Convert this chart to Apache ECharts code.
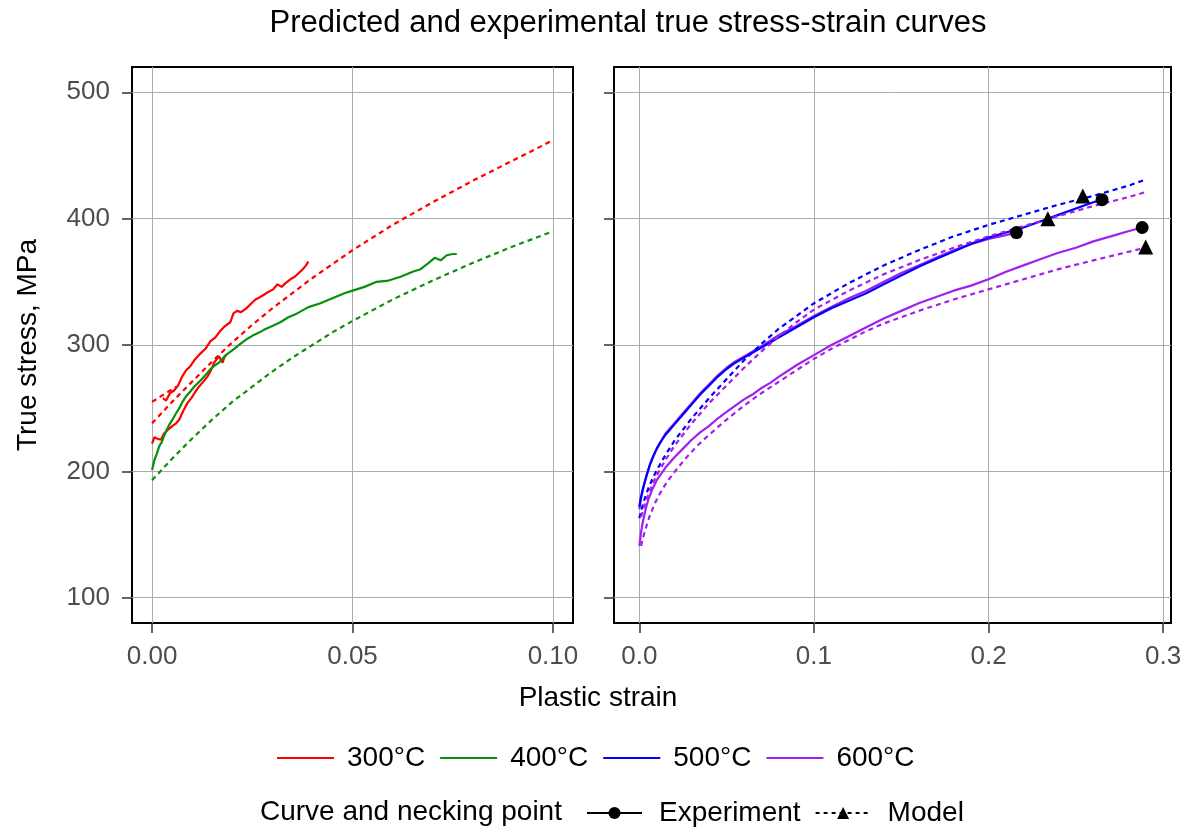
<!DOCTYPE html>
<html>
<head>
<meta charset="utf-8">
<title>Predicted and experimental true stress-strain curves</title>
<script src="https://cdn.jsdelivr.net/npm/echarts@6/dist/echarts.min.js"></script>
<style>
  html, body { margin: 0; padding: 0; background: #fff; }
  #chart { width: 1191px; height: 830px; }
</style>
</head>
<body>
<div id="chart"></div>
<script>
// ---- data: [plastic strain, true stress MPa] ----
// left panel: 300 °C and 400 °C
const exp300a = [[0.0027,258],[0.0035,256],[0.0045,262],[0.0055,264],[0.0065,268],[0.0075,275],[0.0085,280],[0.0095,283],[0.0108,289],[0.012,293],[0.0133,297],[0.0146,303],[0.0158,306],[0.017,311],[0.0182,315],[0.0195,318],[0.0203,325],[0.0212,327],[0.0222,326],[0.0235,329],[0.0248,333],[0.0258,336],[0.027,338],[0.028,340],[0.029,342],[0.0302,344],[0.0313,348],[0.0323,346],[0.0333,349],[0.0345,352],[0.0356,354],[0.0366,357],[0.0376,360],[0.0384,363],[0.039,366]];
const exp300b = [[0,222],[0.0006,227],[0.0012,226],[0.0022,225],[0.003,230],[0.004,233],[0.0051,236],[0.006,238],[0.0068,241],[0.0078,248],[0.0088,254],[0.0098,258],[0.0108,263],[0.0117,267],[0.0128,271],[0.0138,275],[0.0147,280],[0.0155,286],[0.0162,289],[0.0167,291],[0.0172,288],[0.0176,286],[0.018,290],[0.0184,292]];
const model300a = [[0,238],[0.005,255],[0.01,271],[0.015,287],[0.02,302],[0.025,316],[0.03,329],[0.035,341],[0.04,353],[0.045,364],[0.05,375],[0.06,395],[0.07,413],[0.08,430],[0.09,446],[0.1,462]];
const model300b = [[0,255],[0.003,261],[0.006,267]];
const exp400 = [[0,201],[0.0006,209],[0.0012,214],[0.0018,220],[0.0024,223],[0.003,228],[0.0037,233],[0.0043,237],[0.0051,241],[0.006,246],[0.0068,250],[0.0076,255],[0.0084,259],[0.0095,263],[0.0105,267],[0.0118,271],[0.013,275],[0.0146,281],[0.0157,284],[0.0167,286],[0.0178,290],[0.0188,293],[0.0205,297],[0.0221,301],[0.0238,305],[0.0254,308],[0.0268,310],[0.0279,312],[0.03,315],[0.032,318],[0.034,322],[0.0362,325],[0.039,330],[0.042,333],[0.045,337],[0.048,341],[0.05,343],[0.053,346],[0.056,350],[0.059,351],[0.062,354],[0.065,358],[0.067,360],[0.069,365],[0.0705,369],[0.072,367],[0.0735,371],[0.075,372],[0.076,372]];
const model400 = [[0,193],[0.005,210],[0.01,226],[0.015,241],[0.02,255],[0.025,267],[0.03,279],[0.035,290],[0.04,300],[0.045,310],[0.05,319],[0.06,336],[0.07,351],[0.08,365],[0.09,378],[0.1,390]];

// right panel: 500 °C and 600 °C
const exp500 = [[0,172],[0.001,180],[0.002,186],[0.003,191],[0.004,196],[0.006,205],[0.008,212],[0.01,218],[0.0125,224],[0.015,229],[0.0175,233],[0.02,237],[0.025,245],[0.03,253],[0.035,261],[0.04,268],[0.045,275],[0.05,281],[0.055,286],[0.06,290],[0.07,298],[0.08,306],[0.09,314],[0.1,322],[0.11,329],[0.12,335],[0.13,341],[0.14,348],[0.15,355],[0.16,362],[0.17,368],[0.18,374],[0.19,380],[0.2,385],[0.21,389],[0.22,393],[0.23,398],[0.24,403],[0.25,408],[0.26,413],[0.265,415]];
const model500 = [[0,163],[0.0025,176],[0.005,186],[0.0075,194],[0.01,201],[0.015,213],[0.02,224],[0.03,242],[0.04,258],[0.05,273],[0.06,288],[0.07,301],[0.08,313],[0.09,323],[0.1,333],[0.12,349],[0.14,363],[0.16,375],[0.18,386],[0.2,395],[0.22,403],[0.24,411],[0.26,418],[0.28,426],[0.29,431]];
const exp600a = [[0,170],[0.001,179],[0.002,185],[0.003,191],[0.004,196],[0.006,205],[0.008,212],[0.01,218],[0.0125,224],[0.015,230],[0.0175,234],[0.02,238],[0.025,246],[0.03,254],[0.035,262],[0.04,269],[0.045,276],[0.05,282],[0.055,287],[0.06,291],[0.07,299],[0.08,308],[0.09,315],[0.1,323],[0.11,330],[0.12,337],[0.13,343],[0.14,350],[0.15,357],[0.16,363],[0.17,369],[0.18,375],[0.19,380],[0.2,384],[0.21,387],[0.216,389]];
const model600a = [[0.001,164],[0.003,173],[0.005,181],[0.0075,190],[0.01,197],[0.015,209],[0.02,220],[0.03,238],[0.04,254],[0.05,268],[0.06,282],[0.07,295],[0.08,307],[0.09,318],[0.1,328],[0.12,343],[0.14,356],[0.16,367],[0.18,377],[0.2,386],[0.22,394],[0.24,402],[0.26,410],[0.28,417],[0.29,421]];
const exp600b = [[0,141],[0.001,152],[0.002,160],[0.003,166],[0.004,172],[0.005,177],[0.0075,186],[0.01,193],[0.0125,198],[0.015,203],[0.0175,207],[0.02,211],[0.025,218],[0.03,225],[0.035,231],[0.04,236],[0.045,242],[0.05,247],[0.055,252],[0.06,257],[0.065,261],[0.07,266],[0.075,270],[0.08,275],[0.09,284],[0.1,292],[0.11,300],[0.12,307],[0.13,314],[0.14,321],[0.15,327],[0.16,333],[0.17,338],[0.18,343],[0.19,347],[0.2,352],[0.21,358],[0.22,363],[0.23,368],[0.24,373],[0.25,377],[0.26,382],[0.27,386],[0.28,390],[0.288,393]];
const model600b = [[0.001,141],[0.003,152],[0.006,165],[0.009,175],[0.012,183],[0.016,192],[0.021,201],[0.027,211],[0.033,220],[0.04,229],[0.05,241],[0.06,252],[0.07,262],[0.08,271],[0.09,280],[0.1,289],[0.11,297],[0.12,304],[0.13,311],[0.14,317],[0.15,322],[0.16,327],[0.18,336],[0.2,344],[0.22,352],[0.24,360],[0.26,367],[0.29,377]];

// necking points
const neckExp = [[0.216,389],[0.265,415],[0.288,393]];
const neckModel = [[0.234,400],[0.254,418],[0.29,377.5]];

// ticks
const xTicksLeft = [0, 0.05, 0.1];
const xTicksRight = [0, 0.1, 0.2, 0.3];
const yTicks = [100, 200, 300, 400, 500];
const tempNames = ['300°C', '400°C', '500°C', '600°C'];

const FONT = 'Liberation Sans, Arial, sans-serif';
const colors = { '300°C': '#FF0000', '400°C': '#0A8F0A', '500°C': '#0000FF', '600°C': '#A020F0' };

function curve(name, data, dashed, panel) {
  return {
    name: name,
    type: 'line',
    xAxisIndex: panel,
    yAxisIndex: panel,
    data: data,
    symbol: 'none',
    silent: true,
    itemStyle: { color: colors[name] },
    lineStyle: { color: colors[name], width: 2.2, type: dashed ? [5, 4] : 'solid' },
  };
}

function xAxis(panel, ticks, min, max, digits) {
  return {
    gridIndex: panel,
    type: 'value',
    min: min,
    max: max,
    axisLine: { show: false, onZero: false },
    axisTick: { show: true, length: 10, customValues: ticks, lineStyle: { color: '#333', width: 1.5 } },
    axisLabel: {
      customValues: ticks,
      formatter: (v) => v.toFixed(digits),
      fontSize: 26, color: '#4d4d4d', fontFamily: FONT, margin: 21,
    },
    splitLine: { show: true, lineStyle: { color: '#ababab', width: 1 } },
  };
}

function yAxis(panel, showLabels) {
  return {
    gridIndex: panel,
    type: 'value',
    min: 80,
    max: 520,
    axisLine: { show: false, onZero: false },
    axisTick: { show: true, length: 10, customValues: yTicks, lineStyle: { color: '#333', width: 1.5 } },
    axisLabel: {
      show: showLabels,
      customValues: yTicks,
      fontSize: 26, color: '#4d4d4d', fontFamily: FONT, margin: 22,
    },
    splitLine: { show: true, lineStyle: { color: '#ababab', width: 1 } },
  };
}

const chart = echarts.init(document.getElementById('chart'));
chart.setOption({
  animation: false,
  backgroundColor: '#fff',
  grid: [
    { left: 132, top: 67, width: 441, height: 556, show: true, borderColor: '#000', borderWidth: 2, backgroundColor: 'transparent' },
    { left: 614, top: 67, width: 557, height: 556, show: true, borderColor: '#000', borderWidth: 2, backgroundColor: 'transparent' },
  ],
  xAxis: [
    xAxis(0, xTicksLeft, -0.005, 0.105, 2),
    xAxis(1, xTicksRight, -0.0145, 0.3045, 1),
  ],
  yAxis: [yAxis(0, true), yAxis(1, false)],
  legend: [
    {
      data: tempNames,
      left: 272,
      top: 739,
      icon: 'rect',
      itemWidth: 57,
      itemHeight: 2,
      itemGap: 15,
      selectedMode: false,
      textStyle: { fontSize: 28, color: '#000', fontFamily: FONT, padding: [0, 0, 0, 8] },
    },
    {
      data: [
        { name: 'Experiment', lineStyle: { color: '#000', width: 2, type: 'solid', opacity: 1 } },
        { name: 'Model', lineStyle: { color: '#000', width: 2, type: [4, 4], opacity: 1 } },
      ],
      left: 581,
      top: 794,
      itemWidth: 55,
      itemHeight: 15,
      itemGap: 14,
      selectedMode: false,
      textStyle: { fontSize: 28, color: '#000', fontFamily: FONT, padding: [0, 0, 0, 12] },
    },
  ],
  graphic: [
    { type: 'text', x: 628, y: 23, style: { text: 'Predicted and experimental true stress-strain curves', font: '31px ' + FONT, fill: '#000', textAlign: 'center', textVerticalAlign: 'middle' } },
    { type: 'text', x: 28, y: 345, rotation: Math.PI / 2, style: { text: 'True stress, MPa', font: '28px ' + FONT, fill: '#000', textAlign: 'center', textVerticalAlign: 'middle' } },
    { type: 'text', x: 598, y: 698, style: { text: 'Plastic strain', font: '28px ' + FONT, fill: '#000', textAlign: 'center', textVerticalAlign: 'middle' } },
    { type: 'text', x: 260, y: 812, style: { text: 'Curve and necking point', font: '28px ' + FONT, fill: '#000', textAlign: 'left', textVerticalAlign: 'middle' } },
  ],
  series: [
    // left panel
    curve('300°C', exp300a, false, 0),
    curve('300°C', exp300b, false, 0),
    curve('300°C', model300a, true, 0),
    curve('300°C', model300b, true, 0),
    curve('400°C', exp400, false, 0),
    curve('400°C', model400, true, 0),
    // right panel
    curve('600°C', exp600a, false, 1),
    curve('500°C', exp500, false, 1),
    curve('500°C', model500, true, 1),
    curve('600°C', exp600b, false, 1),
    curve('600°C', model600a, true, 1),
    curve('600°C', model600b, true, 1),
    {
      name: 'Experiment', type: 'line', xAxisIndex: 1, yAxisIndex: 1, data: neckExp,
      symbol: 'circle', symbolSize: 13, showSymbol: true, silent: true, z: 5,
      itemStyle: { color: '#000' }, lineStyle: { opacity: 0 },
    },
    {
      name: 'Model', type: 'line', xAxisIndex: 1, yAxisIndex: 1, data: neckModel,
      symbol: 'triangle', symbolSize: 15, showSymbol: true, silent: true, z: 5,
      itemStyle: { color: '#000' }, lineStyle: { opacity: 0 },
    },
  ],
});
</script>
</body>
</html>
